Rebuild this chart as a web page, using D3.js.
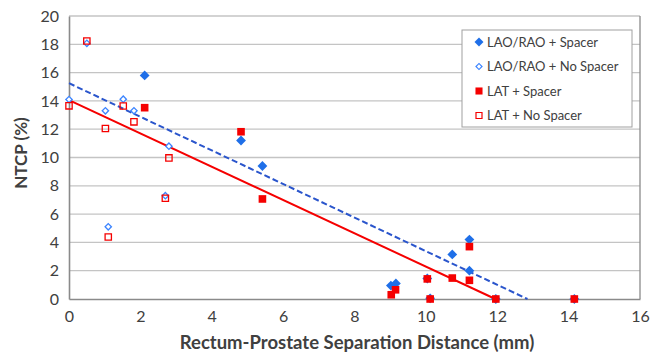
<!DOCTYPE html>
<html>
<head>
<meta charset="utf-8">
<script src="https://cdn.jsdelivr.net/npm/d3@7"></script>
<style>
  body { margin: 0; background: #fff; }
  svg text { font-family: Lato, "Open Sans", sans-serif; fill: #404040; }
</style>
</head>
<body>
<div id="chart"></div>
<script>
// series data [distance mm, NTCP %]
const laoSpacer = [[2.12, 15.8], [4.82, 11.2], [5.42, 9.4], [9.02, 0.95], [9.16, 1.1],
  [10.04, 1.45], [10.12, 0.05], [10.74, 3.15], [11.22, 4.2], [11.22, 2.0], [11.96, 0], [14.16, 0]];
const laoNoSpacer = [[0, 14.1], [0.5, 18.07], [1.02, 13.3], [1.52, 14.12], [1.82, 13.3],
  [2.8, 10.8], [1.1, 5.1], [2.7, 7.3]];
const latSpacer = [[2.12, 13.52], [4.82, 11.82], [5.42, 7.07], [9.03, 0.3], [9.15, 0.65],
  [10.04, 1.42], [10.12, 0], [10.74, 1.48], [11.22, 3.7], [11.22, 1.32], [11.96, 0], [14.16, 0]];
const latNoSpacer = [[0, 13.65], [0.5, 18.23], [1.02, 12.05], [1.52, 13.64], [1.82, 12.52],
  [2.8, 9.97], [1.1, 4.38], [2.7, 7.12]];

// linear trend lines: [intercept, slope]
const laoTrend = [15.25, -1.187];
const latTrend = [14.05, -1.176];

const xTicks = [0, 2, 4, 6, 8, 10, 12, 14, 16];
const yTicks = [0, 2, 4, 6, 8, 10, 12, 14, 16, 18, 20];
const legendLabels = ["LAO/RAO + Spacer", "LAO/RAO + No Spacer", "LAT + Spacer", "LAT + No Spacer"];

const W = 651, H = 355;
const margin = { top: 16, right: 11, bottom: 56, left: 69 };
const width = W - margin.left - margin.right;
const height = H - margin.top - margin.bottom;

const blue = "#1f6fe8", red = "#f50000", lightBlue = "#3d85ff";

const svg = d3.select("#chart").append("svg")
    .attr("width", W).attr("height", H);
const g = svg.append("g")
    .attr("transform", `translate(${margin.left},${margin.top})`);

const x = d3.scaleLinear().domain([0, 16]).range([0, width]);
const y = d3.scaleLinear().domain([0, 20]).range([height, 0]);

// gridlines
g.selectAll(".grid").data(yTicks.filter(d => d > 0)).enter()
    .append("line")
    .attr("x1", 0).attr("x2", width)
    .attr("y1", d => y(d)).attr("y2", d => y(d))
    .attr("stroke", "#c4c4c4").attr("stroke-width", 1.3);

// right border
g.append("line").attr("x1", width).attr("x2", width).attr("y1", 0).attr("y2", height)
    .attr("stroke", "#8a8a8a").attr("stroke-width", 1.3);

// axes
const xAxis = g.append("g").attr("transform", `translate(0,${height})`)
    .call(d3.axisBottom(x).tickValues(xTicks).tickSize(0).tickPadding(12));
const yAxis = g.append("g")
    .call(d3.axisLeft(y).tickValues(yTicks).tickSize(0).tickPadding(10));
[xAxis, yAxis].forEach(a => {
    a.select(".domain").attr("stroke", "#8a8a8a").attr("stroke-width", 1.6);
    a.selectAll("text").style("font-size", "16px").attr("fill", "#404040");
});

svg.append("text")
    .attr("x", 357).attr("y", 349)
    .attr("text-anchor", "middle")
    .style("font-size", "18.5px").style("font-weight", "bold")
    .text("Rectum-Prostate Separation Distance (mm)");

svg.append("text")
    .attr("transform", "translate(27,153) rotate(-90)")
    .attr("text-anchor", "middle")
    .style("font-size", "17px").style("font-weight", "bold")
    .text("NTCP (%)");

// trend lines, from x=0 to where y reaches 0
const trendLine = (t, color, dash) => {
    const xEnd = -t[0] / t[1];
    g.append("line")
        .attr("x1", x(0)).attr("y1", y(t[0]))
        .attr("x2", x(xEnd)).attr("y2", y(0))
        .attr("stroke", color).attr("stroke-width", 2)
        .attr("stroke-dasharray", dash);
};
trendLine(laoTrend, "#2a55cc", "6,3");
trendLine(latTrend, red, null);

const square = d3.symbol().type(d3.symbolSquare);

// diamonds are squares rotated by 45 degrees
function drawSeries(data, rot, size, fill, stroke, sw) {
    g.append("g").selectAll("path").data(data).enter()
        .append("path")
        .attr("transform", d => `translate(${x(d[0])},${y(d[1])}) rotate(${rot})`)
        .attr("d", square.size(size)())
        .attr("fill", fill)
        .attr("stroke", stroke)
        .attr("stroke-width", sw);
}
drawSeries(laoSpacer, 45, 48, blue, "none", 0);
drawSeries(latSpacer, 0, 58, red, "none", 0);
drawSeries(laoNoSpacer, 45, 20, "#fff", lightBlue, 1.3);
drawSeries(latNoSpacer, 0, 40, "none", red, 1.3);

// legend
const leg = svg.append("g").attr("transform", "translate(462,30)");
leg.append("rect").attr("width", 170).attr("height", 97)
    .attr("fill", "#fff").attr("stroke", "#a0a0a0").attr("stroke-width", 1);
const legSym = [
    { rot: 45, size: 40, fill: blue, stroke: "none", sw: 0 },
    { rot: 45, size: 18, fill: "#fff", stroke: lightBlue, sw: 1.2 },
    { rot: 0, size: 50, fill: red, stroke: "none", sw: 0 },
    { rot: 0, size: 36, fill: "#fff", stroke: red, sw: 1.2 }
];
const items = leg.selectAll(".item").data(legendLabels).enter().append("g")
    .attr("transform", (d, i) => `translate(17,${12 + i * 24.5})`);
items.append("path")
    .attr("transform", (d, i) => `rotate(${legSym[i].rot})`)
    .attr("d", (d, i) => square.size(legSym[i].size)())
    .attr("fill", (d, i) => legSym[i].fill)
    .attr("stroke", (d, i) => legSym[i].stroke)
    .attr("stroke-width", (d, i) => legSym[i].sw);
items.append("text")
    .attr("x", 8).attr("dy", "0.35em")
    .style("font-size", "13px")
    .text(d => d);
</script>
</body>
</html>
